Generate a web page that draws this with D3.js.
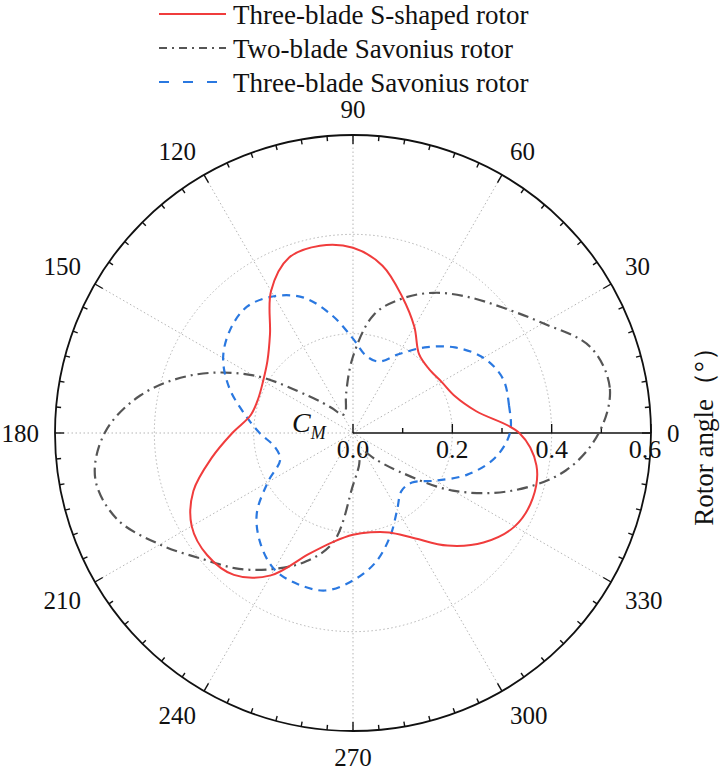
<!DOCTYPE html>
<html>
<head>
<meta charset="utf-8">
<script src="https://cdn.jsdelivr.net/npm/d3@7"></script>
<style>
  html, body { margin: 0; padding: 0; background: #fff; }
  svg text { font-family: "Liberation Serif", "Times New Roman", serif; fill: #111; }
</style>
</head>
<body>
<svg id="chart" width="720" height="771"></svg>
<script>
// ---- data ----
const angleDeg = [0,10,20,30,40,50,60,70,80,90,100,110,120,130,140,150,160,170,
                  180,190,200,210,220,230,240,250,260,270,280,290,300,310,320,330,340,350];
const threeBladeS = [0.335,0.252,0.218,0.206,0.200,0.207,0.247,0.291,0.342,0.373,0.383,0.376,
                     0.330,0.260,0.225,0.209,0.203,0.209,0.243,0.289,0.342,0.375,0.383,0.373,
                     0.331,0.259,0.222,0.205,0.203,0.213,0.244,0.296,0.343,0.376,0.385,0.375];
const twoBladeSav = [0.495,0.525,0.508,0.442,0.393,0.358,0.326,0.288,0.242,0.154,0.080,0.045,
                     0.042,0.065,0.115,0.232,0.342,0.435,0.500,0.527,0.506,0.449,0.395,0.357,
                     0.316,0.275,0.222,0.105,0.068,0.045,0.043,0.068,0.120,0.232,0.340,0.435];
const threeBladeSav = [0.316,0.319,0.321,0.303,0.268,0.225,0.183,0.153,0.157,0.190,0.240,0.290,
                       0.318,0.332,0.323,0.302,0.265,0.222,0.188,0.160,0.156,0.198,0.253,0.290,
                       0.317,0.324,0.322,0.297,0.264,0.220,0.178,0.152,0.155,0.192,0.245,0.290];
const radialTicks = [0, 0.2, 0.4, 0.6];
const radialMinor = [0.1, 0.3, 0.5];
const angleLabels = [0,30,60,90,120,150,180,210,240,270,300,330];
const seriesNames = ["Three-blade S-shaped rotor", "Two-blade Savonius rotor", "Three-blade Savonius rotor"];

// ---- layout ----
const cx = 353, cy = 433, R = 298;
const svg = d3.select("#chart");
const r = d3.scaleLinear().domain([0, 0.6]).range([0, R]);
const toRad = d => d * Math.PI / 180;
const px = (deg, rad) => cx + rad * Math.cos(toRad(deg));
const py = (deg, rad) => cy - rad * Math.sin(toRad(deg));

const g = svg.append("g");

// grid circles
g.selectAll("circle.grid").data([0.2, 0.4]).join("circle")
  .attr("cx", cx).attr("cy", cy).attr("r", d => r(d))
  .attr("fill", "none").attr("stroke", "#b5b5b5").attr("stroke-width", 1)
  .attr("stroke-dasharray", "1.5,2.5");

// spokes
g.selectAll("line.spoke").data(d3.range(30, 360, 30)).join("line")
  .attr("x1", cx).attr("y1", cy)
  .attr("x2", d => px(d, R)).attr("y2", d => py(d, R))
  .attr("stroke", "#b5b5b5").attr("stroke-width", 1).attr("stroke-dasharray", "1.5,2.5");

// outer circle
g.append("circle").attr("cx", cx).attr("cy", cy).attr("r", R)
  .attr("fill", "none").attr("stroke", "#111").attr("stroke-width", 1.8);

// angular ticks
g.selectAll("line.atick").data(d3.range(0, 360, 5)).join("line")
  .attr("x1", d => px(d, R)).attr("y1", d => py(d, R))
  .attr("x2", d => px(d, R - (d % 30 === 0 ? 9 : 5)))
  .attr("y2", d => py(d, R - (d % 30 === 0 ? 9 : 5)))
  .attr("stroke", "#111").attr("stroke-width", 1.4);

// angle labels
g.selectAll("text.alab").data(angleLabels).join("text")
  .attr("x", d => px(d, R + 16)).attr("y", d => py(d, R + 16))
  .attr("font-size", 25)
  .attr("text-anchor", d => { const c = Math.cos(toRad(d)); return c > 0.1 ? "start" : (c < -0.1 ? "end" : "middle"); })
  .attr("dy", d => { const s = Math.sin(toRad(d)); return s > 0.1 ? "-0.05em" : (s < -0.1 ? "0.75em" : "0.35em"); })
  .text(d => d);

// radial axis along 0 deg
const ax = g.append("g");
ax.append("line").attr("x1", cx).attr("y1", cy).attr("x2", cx + R).attr("y2", cy)
  .attr("stroke", "#111").attr("stroke-width", 1.6);
ax.selectAll("line.maj").data(radialTicks).join("line")
  .attr("x1", d => cx + r(d)).attr("x2", d => cx + r(d)).attr("y1", cy).attr("y2", cy - 9)
  .attr("stroke", "#111").attr("stroke-width", 1.4);
ax.selectAll("line.min").data(radialMinor).join("line")
  .attr("x1", d => cx + r(d)).attr("x2", d => cx + r(d)).attr("y1", cy).attr("y2", cy - 5)
  .attr("stroke", "#111").attr("stroke-width", 1.4);
ax.selectAll("text.rl").data(radialTicks).join("text")
  .attr("x", d => cx + r(d) - (d === 0.6 ? 6 : 0)).attr("y", cy + 25)
  .attr("text-anchor", "middle").attr("font-size", 26)
  .text(d => d3.format(".1f")(d));

// C_M label
const cm = g.append("text").attr("x", 292).attr("y", 432).attr("font-size", 28).attr("font-style", "italic");
cm.append("tspan").text("C");
cm.append("tspan").attr("font-size", 18).attr("dy", 7).text("M");

// Rotor angle label
g.append("text").attr("transform", "translate(713,430) rotate(-90)")
  .attr("text-anchor", "middle").attr("font-size", 27)
  .text("Rotor angle（°）");

// curves
const line = d3.lineRadial()
  .angle(d => toRad(90 - d[0]))
  .radius(d => r(d[1]))
  .curve(d3.curveCatmullRomClosed.alpha(0.5));

const styles = [
  { data: threeBladeS, color: "#f03c3c", dash: null, width: 2 },
  { data: twoBladeSav, color: "#555555", dash: "11,5,2,5", width: 2.2 },
  { data: threeBladeSav, color: "#2a78e0", dash: "8,6", width: 2.2 }
];
const plot = g.append("g").attr("transform", `translate(${cx},${cy})`);
[1, 2, 0].forEach(i => {
  const s = styles[i];
  plot.append("path")
    .datum(angleDeg.map((a, k) => [a, s.data[k]]))
    .attr("d", line)
    .attr("fill", "none").attr("stroke", s.color).attr("stroke-width", s.width)
    .attr("stroke-dasharray", s.dash);
});

// legend
const leg = svg.append("g");
const legY = [14, 48, 82];
seriesNames.forEach((name, i) => {
  const s = styles[i];
  leg.append("line").attr("x1", 159).attr("x2", i === 2 ? 218 : 226)
    .attr("y1", legY[i]).attr("y2", legY[i])
    .attr("stroke", s.color).attr("stroke-width", s.width)
    .attr("stroke-dasharray", i === 1 ? "8,5,2,5" : (i === 2 ? "10,14" : null));
  leg.append("text").attr("x", 233).attr("y", legY[i] + 10).attr("font-size", 27).text(name);
});
</script>
</body>
</html>
